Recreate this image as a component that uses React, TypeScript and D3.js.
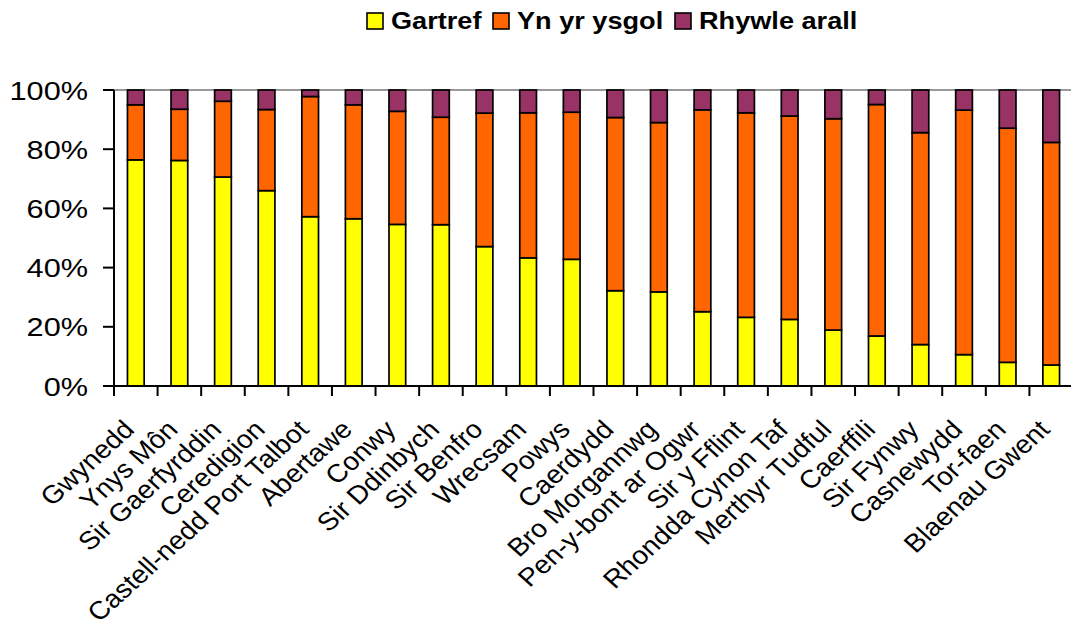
import React from "react";
import * as d3 from "d3";

const categories = [
  "Gwynedd", "Ynys Môn", "Sir Gaerfyrddin", "Ceredigion", "Castell-nedd Port Talbot",
  "Abertawe", "Conwy", "Sir Ddinbych", "Sir Benfro", "Wrecsam", "Powys", "Caerdydd",
  "Bro Morgannwg", "Pen-y-bont ar Ogwr", "Sir y Fflint", "Rhondda Cynon Taf",
  "Merthyr Tudful", "Caerffili", "Sir Fynwy", "Casnewydd", "Tor-faen", "Blaenau Gwent",
];
const gartref = [76.4, 76.2, 70.6, 66.0, 57.2, 56.5, 54.6, 54.5, 47.1, 43.3, 42.8, 32.2, 31.8, 25.1, 23.2, 22.5, 18.9, 16.9, 14.0, 10.6, 8.0, 7.1];
const ysgol = [18.6, 17.3, 25.6, 27.4, 40.6, 38.5, 38.2, 36.3, 45.1, 49.0, 49.7, 58.5, 57.2, 68.2, 69.1, 68.7, 71.4, 78.2, 71.6, 82.6, 79.1, 75.2];
const arall = gartref.map((g, i) => +(100 - g - ysgol[i]).toFixed(1));
const seriesNames = ["Gartref", "Yn yr ysgol", "Rhywle arall"];
const seriesColors = ["#FFFF00", "#FF6600", "#993366"];
const yTicks = [0, 20, 40, 60, 80, 100];

const W = 1071, H = 632;
const SX = 1.18;
const SXL = 1.1;
const FONT = "'Liberation Sans', Arial, sans-serif";

export default function App() {
  const x0 = 114, x1 = 1073, yTop = 90, yBot = 386;
  const x = d3.scaleBand<string>().domain(categories).range([x0, x1]).paddingInner(0.617).paddingOuter(0.3085);
  const y = d3.scaleLinear().domain([0, 100]).range([yBot, yTop]);
  const step = x.step();

  const rows = categories.map((c, i) => ({ cat: c, Gartref: gartref[i], "Yn yr ysgol": ysgol[i], "Rhywle arall": arall[i] }));
  const stacked = d3.stack<any>().keys(seriesNames)(rows);

  const legendItems = [
    { box: 367, text: 391 },
    { box: 493, text: 517 },
    { box: 675, text: 699 },
  ];

  return (
    <svg width={W} height={H} style={{ position: "absolute", left: 0, top: 0, background: "#fff" }} fontFamily={FONT}>
      <line x1={x0} x2={W} y1={y(100)} y2={y(100)} stroke="#999" strokeWidth={2} />
      {stacked.map((s, si) => (
        <g key={si}>
          {s.map((d, i) => (
            <rect key={i} x={x(categories[i])} width={x.bandwidth()} y={y(d[1])} height={y(d[0]) - y(d[1])}
              fill={seriesColors[si]} stroke="#000" strokeWidth={1.7} />
          ))}
        </g>
      ))}
      <line x1={x0} x2={x0} y1={yTop} y2={yBot} stroke="#000" strokeWidth={2} />
      {yTicks.map((t) => (
        <g key={t}>
          <line x1={x0 - 11} x2={x0} y1={y(t)} y2={y(t)} stroke="#000" strokeWidth={2} />
          <text transform={`translate(88,${y(t) + 9.5}) scale(${SX},1)`} textAnchor="end" fontSize={26} fill="#000">{t}%</text>
        </g>
      ))}
      <line x1={x0} x2={W} y1={yBot} y2={yBot} stroke="#000" strokeWidth={2} />
      {d3.range(categories.length + 1).map((k) => (
        <line key={k} x1={x0 + k * step} x2={x0 + k * step} y1={yBot} y2={yBot + 10} stroke="#000" strokeWidth={2} />
      ))}
      {categories.map((c) => {
        const cx = (x(c) as number) + x.bandwidth() / 2;
        return (
          <text key={c} transform={`translate(${cx},${431}) scale(${SXL},1) rotate(-45)`} textAnchor="end" fontSize={25.5} fill="#000">{c}</text>
        );
      })}
      {seriesNames.map((n, i) => (
        <g key={n}>
          <rect x={legendItems[i].box} y={13} width={16} height={16} fill={seriesColors[i]} stroke="#000" strokeWidth={1.6} />
          <text transform={`translate(${legendItems[i].text},29) scale(${SX},1)`} fontSize={23} fontWeight="bold" fill="#000">{n}</text>
        </g>
      ))}
    </svg>
  );
}
